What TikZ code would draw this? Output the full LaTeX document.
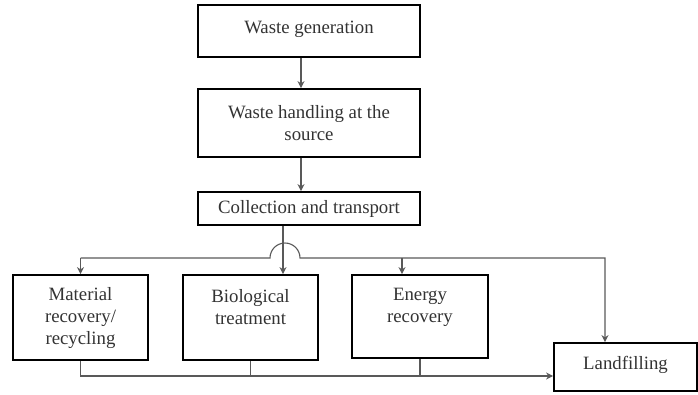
\documentclass[tikz,border=0pt]{standalone}
\usepackage{fontspec}
\setmainfont{Liberation Serif}
\usetikzlibrary{calc, arrows.meta}

\begin{document}
\begin{tikzpicture}[x=1pt, y=-1pt,
        stagebox/.style={draw=black, line width=1.8pt, align=center, inner sep=2pt,
            text=black!80, font=\fontsize{18.8pt}{22pt}\selectfont},
        flow/.style={line width=1.1pt, draw=black!65},
        >={Stealth[length=7pt, width=7pt]}]
        \useasboundingbox (0,0) rectangle (698,394);

        % Các bước thu gom
        \node[stagebox, minimum width=222pt, minimum height=52pt, text depth=8pt] (gen) at (309, 31) {Waste generation};
        \node[stagebox, minimum width=222pt, minimum height=68pt] (hand) at (309, 123) {Waste handling at the\\source};
        \node[stagebox, minimum width=222pt, minimum height=33pt] (coll) at (309, 208.5) {Collection and transport};

        % Các phương án xử lý
        \node[stagebox, minimum width=135pt, minimum height=85pt] (mat) at (80.5, 317.5) {Material\\recovery/\\recycling};
        \node[stagebox, minimum width=135pt, minimum height=85pt] (bio) at (250.5, 317.5) {Biological\\treatment\\\mbox{}};
        \node[stagebox, minimum width=136pt, minimum height=83pt] (ene) at (420, 316.5) {Energy\\recovery\\\mbox{}};
        \node[stagebox, minimum width=143pt, minimum height=48pt, text depth=8pt] (land) at (625.5, 367) {Landfilling};

        % Điểm nối
        \coordinate (drop) at (283, 258);
        \coordinate (busR) at (605, 258);
        \coordinate (bot) at (0, 376);

        % Mũi tên dọc
        \draw[flow, ->] ([xshift=-8pt]gen.south) -- ([xshift=-8pt]hand.north);
        \draw[flow, ->] ([xshift=-8pt]hand.south) -- ([xshift=-8pt]coll.north);
        \draw[flow, ->] (coll.south -| drop) -- (bio.north -| drop);

        % Đường phân phối (nhảy qua đường dọc)
        \draw[flow, ->] (mat.north |- busR) -- ($(drop)+(-13,0)$) arc[start angle=180, end angle=360, radius=15]
            -- (busR) -- (busR |- land.north);
        \draw[flow, ->] (mat.north |- busR) -- (mat.north);
        \draw[flow, ->] ([xshift=-18pt]ene.north |- busR) -- ([xshift=-18pt]ene.north);

        % Đường phần còn lại tới bãi chôn lấp
        \draw[flow, ->] (mat.south) |- (bot -| land.west);
        \draw[flow] (bio.south) -- (bio.south |- bot);
        \draw[flow] (ene.south) -- (ene.south |- bot);
    \end{tikzpicture}
\end{document}
